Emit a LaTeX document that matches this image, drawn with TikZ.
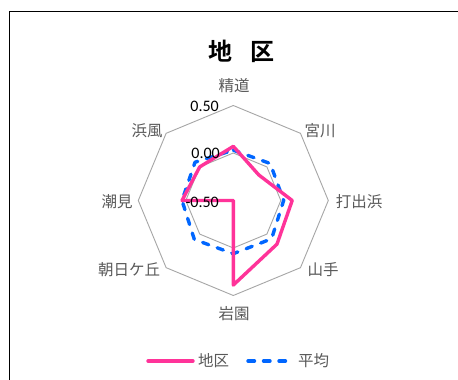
\documentclass[tikz,border=0pt]{standalone}
\usepackage{fontspec}
\setmainfont{Carlito}
\newfontfamily\jp{Noto Sans CJK JP}
\newfontfamily\jpbold{Noto Sans CJK JP Bold}
\usepackage{tikz}

\definecolor{chiku}{HTML}{FF3399}
\definecolor{heikin}{HTML}{0066FF}
\definecolor{ring}{HTML}{A6A6A6}
\definecolor{cat}{HTML}{595959}

\tikzset{
  ringline/.style={draw=ring, line width=0.9pt},
  chikuline/.style={draw=chiku, line width=3.4pt, line join=round, line cap=round},
  heikinline/.style={draw=heikin, line width=3.4pt, line join=round, line cap=round,
    dash pattern=on 6.5pt off 9pt},
  catlabel/.style={text=cat, font=\jp\fontsize{15.5}{15.5}\selectfont, inner sep=0pt},
  numlabel/.style={font=\fontsize{16}{16}\selectfont, inner sep=0pt, anchor=east}
}

\begin{document}
\begin{tikzpicture}[x=1pt,y=1pt]
  \useasboundingbox (0,0) rectangle (458,380);
  \fill[white] (0,0) rectangle (458,380);

  % frame
  \draw[line width=0.8pt] (9,0) -- (9,369) -- (458,369);

  % title
  \node (title) at (241.5,329) {\jpbold\fontsize{24}{24}\selectfont 地\hspace{0.75em}区};

  \begin{scope}[shift={(233.3,179.5)}]
    % rings: 0.50 and 0.00
    \draw[ringline] (90:95) -- (45:95) -- (0:95) -- (-45:95) -- (-90:95)
      -- (-135:95) -- (180:95) -- (135:95) -- cycle;
    \draw[ringline] (90:47.5) -- (45:47.5) -- (0:47.5) -- (-45:47.5) -- (-90:47.5)
      -- (-135:47.5) -- (180:47.5) -- (135:47.5) -- cycle;

    % average
    \draw[heikinline] (90:{(0.03+0.5)*95}) -- (45:{(0.05+0.5)*95})
      -- (0:{(0.03+0.5)*95}) -- (-45:{(0.07+0.5)*95})
      -- (-90:{(0.06+0.5)*95}) -- (-135:{(0.08+0.5)*95})
      -- (180:{(0.04+0.5)*95}) -- (135:{(0.07+0.5)*95}) -- cycle;

    % district
    \draw[chikuline] (90:{(0.07+0.5)*95}) -- (45:{(-0.12+0.5)*95})
      -- (0:{(0.12+0.5)*95}) -- (-45:{(0.15+0.5)*95})
      -- (-90:{(0.39+0.5)*95}) -- (0,0)
      -- (180:{(0.04+0.5)*95}) -- (135:{(0.0+0.5)*95}) -- cycle;
  \end{scope}

  % axis values
  \node[numlabel] (v50) at (219,274) {0.50};
  \node[numlabel] (v00) at (220,227) {0.00};
  \node[numlabel] (vm50) at (219,178) {-0.50};

  % categories
  \node[catlabel] (seido) at (234,294) {精道};
  \node[catlabel] (miyagawa) at (320,249) {宮川};
  \node[catlabel] (uchidehama) at (359,178) {打出浜};
  \node[catlabel] (yamate) at (323,110) {山手};
  \node[catlabel] (iwazono) at (234,66) {岩園};
  \node[catlabel] (asahigaoka) at (129,110) {朝日ケ丘};
  \node[catlabel] (shiomi) at (117,178) {潮見};
  \node[catlabel] (hamakaze) at (147,249) {浜風};

  % legend
  \coordinate (lgA1) at (148,19);
  \coordinate (lgA2) at (193,19);
  \coordinate (lgB1) at (248,19);
  \coordinate (lgB2) at (290,19);
  \draw[chikuline] (lgA1) -- (lgA2);
  \node[catlabel, anchor=west] (lgA) at (198,19) {地区};
  \draw[heikinline] (lgB1) -- (lgB2);
  \node[catlabel, anchor=west] (lgB) at (298,19) {平均};
\end{tikzpicture}
\end{document}
